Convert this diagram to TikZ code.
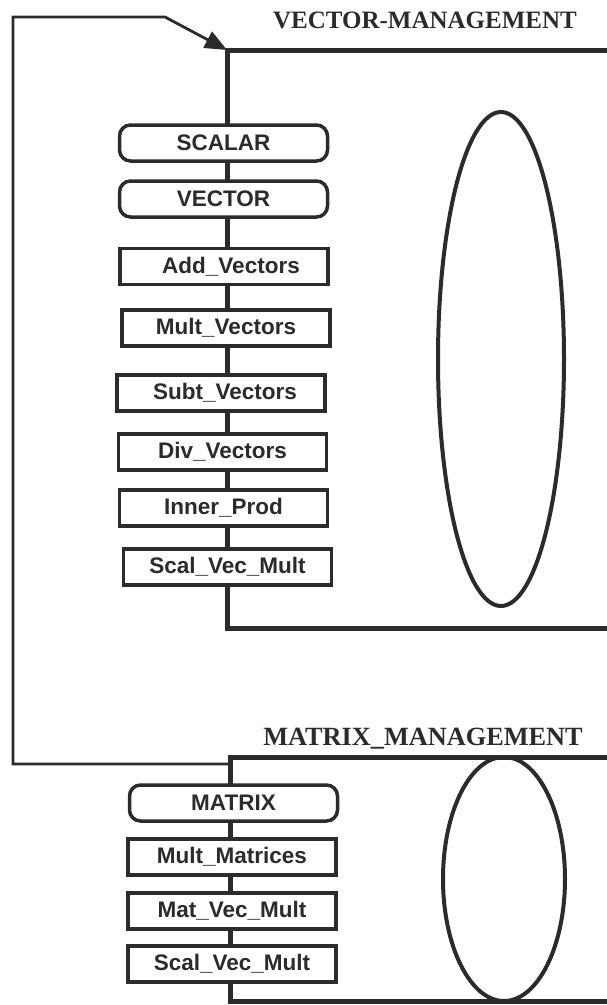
\documentclass[tikz,border=0pt]{standalone}
\usepackage{fontspec}
\setmainfont{Liberation Serif}
\newfontfamily\boxfont{Liberation Sans}
\usetikzlibrary{arrows.meta}
\definecolor{ink}{HTML}{2B2B2B}
\begin{document}
\begin{tikzpicture}[x=1pt,y=-1pt,
  pkgline/.style={draw=ink, line width=5pt, line join=miter},
  opbox/.style={draw=ink, line width=3.5pt, fill=white, text=ink,
    minimum width=208pt, minimum height=36pt, inner sep=0pt,
    font=\boxfont\bfseries\fontsize{22.5}{22.5}\selectfont},
  typebox/.style={opbox, rounded corners=11pt},
  pkgtitle/.style={text=ink, inner sep=0pt, font=\bfseries\fontsize{25}{25}\selectfont},
  body/.style={draw=ink, line width=4pt},
  withline/.style={draw=ink, line width=2.8pt, line join=miter,
    -{Triangle[length=22pt,width=18pt]}}
]
\path[use as bounding box] (0,0) rectangle (607,1005);

% ---------------- VECTOR-MANAGEMENT ----------------
\coordinate (vtl) at (227,50);
\coordinate (vtr) at (612,50);
\coordinate (vbl) at (227,628);
\coordinate (vbr) at (612,628);
\draw[pkgline] (vtr) -- (vtl) -- (vbl) -- (vbr);
\node[pkgtitle] (vtitle) at (425,20) {VECTOR-MANAGEMENT};

\node[typebox] (scalar) at (223.5,143) {SCALAR};
\node[typebox] (vector) at (223.5,199) {VECTOR};
\node[opbox] (addv)  at (224,266.5) {\hspace*{14pt}Add\_Vectors};
\node[opbox] (multv) at (226,328) {Mult\_Vectors};
\node[opbox] (subtv) at (221,393) {\hspace*{8pt}Subt\_Vectors};
\node[opbox] (divv)  at (222.5,452) {Div\_Vectors};
\node[opbox] (innerp) at (223.5,508) {Inner\_Prod};
\node[opbox] (svm1)  at (227.5,567) {Scal\_Vec\_Mult};

\draw[body] (501,359) ellipse [x radius=63, y radius=247];

% ---------------- MATRIX_MANAGEMENT ----------------
\coordinate (mtl) at (230,757);
\coordinate (mtr) at (612,757);
\coordinate (mbl) at (230,1001);
\coordinate (mbr) at (612,1001);
\draw[pkgline] (mtr) -- (mtl) -- (mbl) -- (mbr);
\node[pkgtitle, font=\bfseries\fontsize{26.3}{26.3}\selectfont] (mtitle) at (423,739) {MATRIX\_MANAGEMENT};

\node[typebox] (matrix) at (233.5,803) {MATRIX};
\node[opbox] (multm) at (232,857) {Mult\_Matrices};
\node[opbox] (mvm)   at (232,911) {Mat\_Vec\_Mult};
\node[opbox] (svm2)  at (232,964) {Scal\_Vec\_Mult};

\draw[body] (504,879) ellipse [x radius=61, y radius=122];

% ---------------- with-dependency loop ----------------
\coordinate (looptail) at (230,764);
\coordinate (loopbl) at (13,764);
\coordinate (looptl) at (13,17);
\coordinate (loopbend) at (165,17);
\draw[withline] (looptail) -- (loopbl) -- (looptl) -- (loopbend) -- (vtl);
\end{tikzpicture}
\end{document}
